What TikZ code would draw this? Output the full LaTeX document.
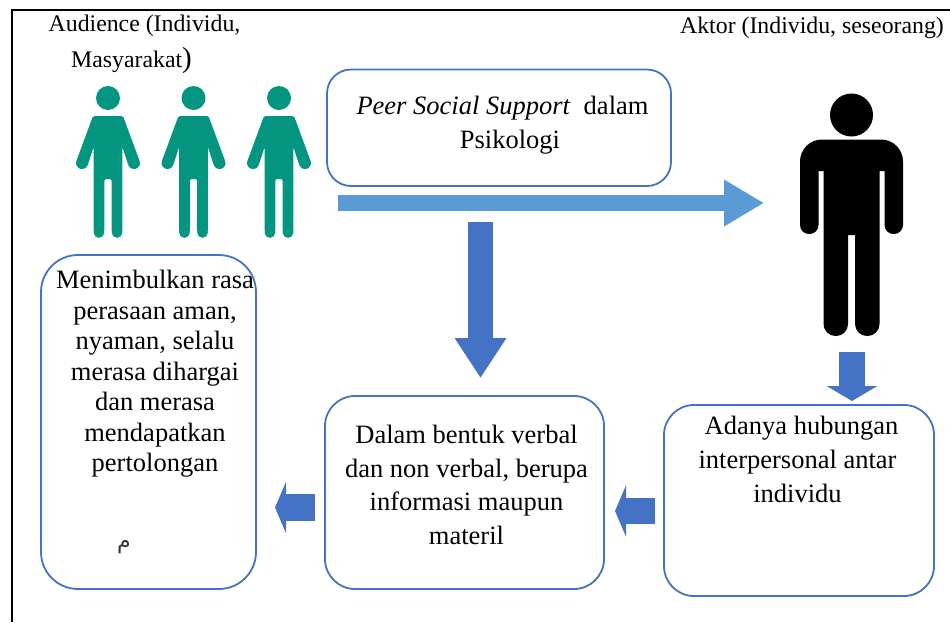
\documentclass[tikz,border=0pt]{standalone}
\usepackage{fontspec}
\setmainfont{Liberation Serif}
\newfontfamily\arabicfont[Script=Arabic]{DejaVu Sans}
\TeXXeTstate=1
\usepackage{xcolor}
\usetikzlibrary{arrows.meta,positioning}
\definecolor{boxblue}{HTML}{4472C4}
\definecolor{lightblue}{HTML}{5B9BD5}
\definecolor{teal}{HTML}{049580}
\tikzset{
  roundbox/.style={draw=boxblue,line width=1.8pt,rounded corners=#1,inner sep=0pt},
  boxtext/.style={align=center,inner sep=0pt,font=\fontsize{26.5}{#1}\selectfont},
  toplabel/.style={inner sep=0pt,anchor=base,font=\fontsize{23.8}{28}\selectfont},
  bigarrow/.style n args={4}{draw=#1,line width=#2,-{Triangle[length=#3,width=#4]}},
  audience/.pic={
    \fill[teal] (0,-18) circle (12);
    \fill[teal,rounded corners=1.5pt] (-15,0) -- (15,0) -- (31.6,45) -- (20.4,49.5) -- (14.4,31)
      -- (14.4,116.5) -- (3.7,116.5) -- (3.7,63) -- (-3.7,63) -- (-3.7,116.5) -- (-14.4,116.5)
      -- (-14.4,31) -- (-20.4,49.5) -- (-31.6,45) -- cycle;
    \foreach \s in {-1,1} {
      \fill[teal] (\s*26,47) circle (6);
      \fill[teal] (\s*9.05,116.5) circle (5.35);
    }
  },
  aktor/.pic={
    \fill[black] (0,-24.5) circle (21.5);
    \fill[black] (-28,31.5) -- (-33,31.5) [rounded corners=9pt] -- (-33,94.5) -- (-51.5,94.5)
      [rounded corners=22pt] -- (-51.5,0) -- (51.5,0) [rounded corners=9pt] -- (51.5,94.5) -- (33,94.5)
      [sharp corners] -- (33,31.5) -- (28,31.5) [rounded corners=12pt] -- (28,196.5) -- (3.5,196.5)
      [sharp corners] -- (3.5,95.5) -- (-3.5,95.5) [rounded corners=12pt] -- (-3.5,196.5) -- (-28,196.5)
      [sharp corners] -- cycle;
  }
}
\begin{document}
\begin{tikzpicture}[x=1pt,y=-1pt]
  \useasboundingbox (0,0) rectangle (950,622);
  \draw[line width=2pt] (950,9.5) -- (11.5,9.5) -- (11.5,622);

  \node[toplabel] (audience1) at (144.5,31.5) {Audience (Individu,};
  \node[toplabel] (audience2) at (131.5,67.5) {Masyarakat{\fontsize{29}{29}\selectfont)}};
  \node[toplabel] (aktorlabel) at (812,33) {Aktor (Individu, seseorang)};

  \pic at (108,116) {audience};
  \pic at (193.5,116) {audience};
  \pic at (279,116) {audience};
  \pic at (851.5,139.5) {aktor};

  % boxes
  \node[roundbox=24pt,minimum width=344pt,minimum height=116.5pt] (support) at (499,127.75) {};
  \node[roundbox=37pt,minimum width=215pt,minimum height=334pt] (akibat) at (148.5,422) {};
  \node[roundbox=30pt,minimum width=279pt,minimum height=193pt] (verbal) at (464.5,492.5) {};
  \node[roundbox=30pt,minimum width=270pt,minimum height=191pt] (hubungan) at (799,500.5) {};

  \node[boxtext=33.5] (supporttext) at (502.5,125) {\textit{Peer Social Support}\ \ dalam\\\hspace*{15pt}Psikologi};
  \node[boxtext=30.5] (akibattext) at (155,374) {Menimbulkan rasa\\perasaan aman,\\nyaman, selalu\\merasa dihargai\\dan merasa\\mendapatkan\\pertolongan};
  \node[boxtext=33.6] (verbaltext) at (466.5,485) {Dalam bentuk verbal\\dan non verbal, berupa\\informasi maupun\\materil};
  \node[boxtext=34] (hubungantext) at (797.5,459) {\hspace*{8pt}Adanya hubungan\\interpersonal antar\\individu};
  \node[inner sep=0pt,font=\arabicfont\fontsize{22}{24}\selectfont,text=black!80] (mim) at (124,547) {\beginR م\endR};

  % arrows
  \coordinate (a1) at (338,203);
  \coordinate (a2) at (764,203);
  \coordinate (b1) at (480.5,222);
  \coordinate (b2) at (480.5,378);
  \coordinate (c1) at (852,352);
  \coordinate (c2) at (852,401);
  \coordinate (d1) at (655,511);
  \coordinate (d2) at (615,511);
  \coordinate (e1) at (315,507.5);
  \coordinate (e2) at (275,507.5);

  \path (a1) edge[bigarrow={lightblue}{16pt}{40pt}{44pt}] (a2)
        (b1) edge[bigarrow={boxblue}{25pt}{40pt}{49pt}] (b2)
        (c1) edge[bigarrow={boxblue}{26pt}{15pt}{50pt}] (c2)
        (d1) edge[bigarrow={boxblue}{26pt}{11pt}{51pt}] (d2)
        (e1) edge[bigarrow={boxblue}{27pt}{11pt}{51pt}] (e2)
        ;
\end{tikzpicture}
\end{document}
